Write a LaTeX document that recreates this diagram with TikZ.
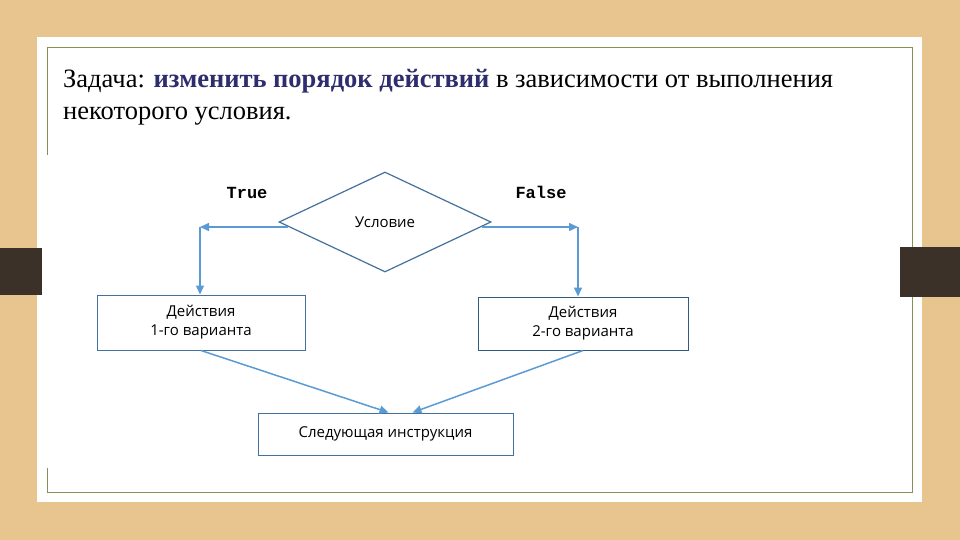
\documentclass[tikz,border=0pt]{standalone}
\usepackage{fontspec}
\setmainfont{Liberation Serif}
\newfontfamily\diag{Open Sans}
\newfontfamily\mono{Liberation Mono}
\usetikzlibrary{shapes.geometric,arrows.meta}
\definecolor{wood}{HTML}{E8C48E}
\definecolor{olive}{HTML}{8A8F5A}
\definecolor{bar}{HTML}{3B3128}
\definecolor{arr}{HTML}{5B9BD5}
\definecolor{bx}{HTML}{41719C}
\definecolor{ttl}{HTML}{2E2E6E}
\tikzset{
 boxst/.style={draw=bx,line width=1pt,fill=white,font=\diag\fontsize{15}{19}\selectfont,align=center,inner sep=0pt},
 conn/.style={draw=arr,line width=1.5pt,-{Triangle[length=9pt,width=8pt]}},
 lbl/.style={font=\mono\bfseries\fontsize{17}{18}\selectfont}
}
\begin{document}
\begin{tikzpicture}[x=1pt,y=-1pt]
\useasboundingbox (0,0) rectangle (960,540);
\fill[wood] (0,0) rectangle (960,540);
\fill[white] (37,37) rectangle (922,502);
\draw[olive,line width=0.8pt] (47,47) rectangle (912,492);
\fill[bar] (0,248) rectangle (42,295);
\fill[bar] (900,247) rectangle (960,297);
\node[anchor=base west,font=\fontsize{26.5}{30}\selectfont,inner sep=0pt] (t1) at (63,88) {Задача: \textcolor{ttl}{\textbf{изменить порядок действий}} в зависимости от выполнения};
\node[anchor=base west,font=\fontsize{26.5}{30}\selectfont,inner sep=0pt] (t2) at (63,120) {некоторого условия.};
\fill[white] (47,155) rectangle (728,468);
\node[diamond,draw=bx,line width=1.2pt,aspect=2.15,minimum width=212pt,minimum height=100pt,inner sep=0pt,font=\diag\fontsize{15}{18}\selectfont] (c) at (385,222) {Условие};
\node[boxst,minimum width=208pt,minimum height=55pt] (a) at (201,322.5) {Действия\\1-го варианта};
\node[boxst,draw=bx!80!black,minimum width=210pt,minimum height=53pt] (b) at (583,323.5) {Действия\\2-го варианта};
\node[boxst,minimum width=255pt,minimum height=42pt] (n) at (385.5,434) {Следующая инструкция};
\node[lbl] (lt) at (247,193) {True};
\node[lbl] (lf) at (541,192) {False};
\coordinate (l1) at (200,227);
\coordinate (r1) at (578,227);
\draw[conn] ([xshift=10pt]c.west |- l1) -- (l1);
\draw[conn] (l1) -- (l1 |- a.north);
\draw[conn] ([xshift=-10pt]c.east |- r1) -- (r1);
\draw[conn] (r1) -- (r1 |- b.north);
\draw[conn] (a.south) -- ([xshift=3pt]n.north);
\draw[conn] (b.south) -- ([xshift=27pt]n.north);
\end{tikzpicture}
\end{document}
